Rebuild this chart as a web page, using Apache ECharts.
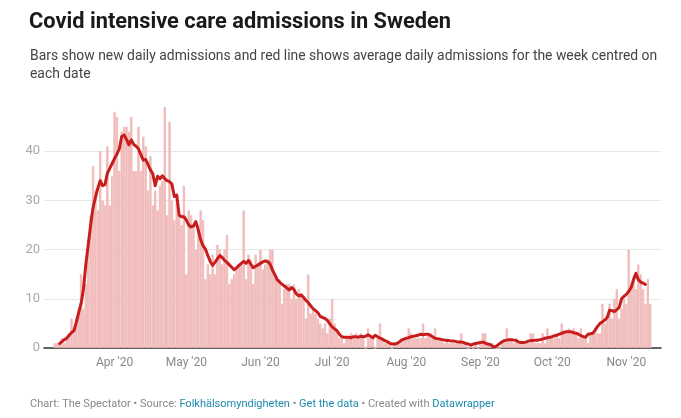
<!DOCTYPE html>
<html>
<head>
<meta charset="utf-8">
<script src="https://cdn.jsdelivr.net/npm/echarts@6/dist/echarts.min.js"></script>
<style>
html,body{margin:0;padding:0;background:#fff;}
#chart{width:681px;height:418px;}
</style>
</head>
<body>
<div id="chart"></div>
<script>
// Category range: one entry per day, 3 Mar 2020 .. 15 Nov 2020
const startDate = [2020, 2, 3];
const dayCount = 258;
const monthNames = ['Jan','Feb','Mar','Apr','May','Jun','Jul','Aug','Sep','Oct','Nov','Dec'];
const yTicks = [0, 10, 20, 30, 40];

// New daily ICU admissions (first value = 7 Mar 2020)
const admissionsStart = 4;
const admissions = [
  1,1,1,2,1,2,3,6,3,6,8,15,8,13,21,27,37,32,28,40,30,29,41,29,35,48,47,36,44,45,
  45,44,47,36,36,45,36,43,41,32,39,29,32,28,33,34,49,27,46,30,26,31,27,25,33,15,28,27,25,20,
  25,28,26,14,17,15,19,15,21,20,17,20,23,13,14,15,16,17,17,28,14,19,18,13,19,17,20,16,17,18,
  20,20,15,14,14,9,12,13,13,10,13,10,12,11,10,6,15,7,8,7,6,5,4,5,3,6,10,5,3,2,
  2,1,2,2,3,2,3,2,3,2,0,4,2,2,0,2,5,2,1,1,1,0,1,1,1,2,2,2,4,3,
  2,2,2,2,5,2,3,3,2,4,2,2,2,1,2,1,1,1,1,1,3,1,1,0,1,0,1,0,1,3,
  3,1,1,1,0,0,0,1,1,4,2,2,1,2,1,1,1,1,1,3,3,1,1,1,3,1,4,2,2,2,
  3,2,5,3,3,4,3,4,3,2,4,2,2,1,3,3,4,3,3,9,5,6,9,6,10,12,6,8,10,9,
  20,12,14,12,17,15,12,9,14,9
];

// Average daily admissions, week centred on each date (first value = 9 Mar 2020)
const averageStart = 6;
const weeklyAverage = [
  0.9,1.3,1.7,2.0,2.6,3.1,3.5,5.2,7.2,9.0,12.0,17.0,21.0,25.0,28.5,30.6,32.5,34.0,33.0,33.2,
  35.5,36.5,37.5,38.5,39.4,40.5,43.0,43.3,42.4,41.3,42.3,41.4,41.0,40.5,39.3,38.2,38.3,37.3,36.2,35.4,
  33.0,34.9,34.4,35.0,34.4,34.0,33.8,33.3,30.8,31.1,27.0,26.7,26.7,26.0,25.0,24.6,24.8,25.7,24.0,22.0,
  20.8,20.1,18.8,17.6,16.8,17.4,18.1,18.8,18.4,17.8,17.4,16.9,16.4,15.9,16.3,16.8,17.2,17.6,17.2,17.8,
  17.0,16.3,16.6,16.9,17.2,17.5,17.7,17.6,17.1,15.9,14.9,13.9,13.4,13.0,12.6,12.2,11.8,12.3,11.9,11.0,
  10.6,10.8,10.3,9.7,9.2,8.6,8.0,7.6,7.2,6.4,6.2,6.0,5.6,4.9,4.3,3.9,3.5,2.8,2.3,2.2,
  2.2,2.2,2.1,2.3,2.3,2.2,2.4,2.3,2.4,2.7,2.4,2.1,2.6,2.3,2.0,1.8,1.5,1.3,1.0,0.8,
  0.8,0.9,1.2,1.6,1.8,2.0,2.1,2.3,2.4,2.5,2.6,2.8,2.7,2.8,2.8,2.6,2.3,2.0,1.9,1.8,
  1.7,1.6,1.5,1.5,1.4,1.4,1.3,1.2,1.2,1.1,0.9,0.8,0.6,0.8,0.9,1.0,1.1,1.2,1.0,0.8,
  0.7,0.4,0.2,0.5,0.9,1.2,1.5,1.6,1.7,1.7,1.6,1.5,1.2,1.1,1.1,1.2,1.4,1.5,1.5,1.6,
  1.6,1.7,1.8,2.0,2.1,2.2,2.3,2.5,2.6,2.8,3.0,3.2,3.3,3.3,3.3,3.1,3.0,2.8,2.5,2.3,
  2.2,2.8,2.9,3.0,3.7,4.4,5.0,5.3,5.7,6.2,7.7,7.6,7.4,7.8,8.2,10.0,10.5,10.9,11.5,12.3,
  13.9,15.2,13.9,13.4,13.2,12.9
];

// build category list and padded series
const categories = [];
for (let i = 0; i < dayCount; i++) {
  const d = new Date(Date.UTC(startDate[0], startDate[1], startDate[2] + i));
  categories.push(d.toISOString().slice(0, 10));
}
function pad(arr, start) {
  const out = new Array(dayCount).fill(null);
  arr.forEach((v, k) => { out[start + k] = v; });
  return out;
}
const barSeries = pad(admissions, admissionsStart);
const lineSeries = pad(weeklyAverage, averageStart);

const chart = echarts.init(document.getElementById('chart'), null, {renderer: 'canvas'});
const FONT = 'Roboto, "Noto Sans", sans-serif';
const BAR_COLOR = '#f0bcbb';

chart.setOption({
  animation: false,
  backgroundColor: '#ffffff',
  title: [
    {
      text: 'Covid intensive care admissions in Sweden',
      left: 24, top: 7,
      textStyle: {fontFamily: FONT, fontSize: 21.8, fontWeight: 'bold', color: '#1a1a1a'}
    },
    {
      text: 'Bars show new daily admissions and red line shows average daily admissions for the week centred on\neach date',
      left: 25, top: 43,
      textStyle: {fontFamily: FONT, fontSize: 13.9, fontWeight: 'normal', color: '#444444', lineHeight: 18}
    },
    {
      text: '{g|Chart: The Spectator • Source: }{b|Folkhälsomyndigheten}{g| • }{b|Get the data}{g| • Created with }{b|Datawrapper}',
      left: 25, top: 394,
      textStyle: {
        fontWeight: 'normal',
        rich: {
          g: {fontFamily: FONT, fontSize: 11, fontWeight: 'normal', color: '#888888'},
          b: {fontFamily: FONT, fontSize: 11, fontWeight: 'normal', color: '#1d8aae'}
        }
      }
    }
  ],
  grid: {left: 44, right: 20, top: 102, bottom: 70, containLabel: false},
  xAxis: {
    type: 'category',
    data: categories,
    boundaryGap: true,
    axisLine: {show: true, lineStyle: {color: '#333333', width: 1.5}},
    axisTick: {show: false},
    axisLabel: {
      interval: function (idx, val) { return val.slice(8, 10) === '01'; },
      formatter: function (val) {
        const m = parseInt(val.slice(5, 7), 10) - 1;
        return monthNames[m] + " '" + val.slice(2, 4);
      },
      color: '#888888', fontFamily: FONT, fontSize: 12, margin: 9
    },
    splitLine: {show: false}
  },
  yAxis: {
    type: 'value',
    min: 0, max: 50, interval: 10,
    axisLine: {show: false},
    axisTick: {show: false},
    axisLabel: {
      formatter: function (v) { return yTicks.indexOf(v) >= 0 ? String(v) : ''; },
      color: '#aaaaaa', fontFamily: FONT, fontSize: 13, margin: 4
    },
    splitLine: {show: true, lineStyle: {color: ['#e6e6e6','#e6e6e6','#e6e6e6','#e6e6e6','#e6e6e6','rgba(0,0,0,0)'], width: 1}}
  },
  series: [
    {
      type: 'bar',
      data: barSeries,
      barCategoryGap: '0%',
      itemStyle: {color: BAR_COLOR, borderColor: BAR_COLOR, borderWidth: 1},
      silent: true
    },
    {
      type: 'line',
      data: lineSeries,
      showSymbol: false,
      symbol: 'none',
      lineStyle: {color: '#c71e1d', width: 3, join: 'round', cap: 'round'},
      connectNulls: false,
      silent: true,
      z: 5
    }
  ]
});
</script>
</body>
</html>
